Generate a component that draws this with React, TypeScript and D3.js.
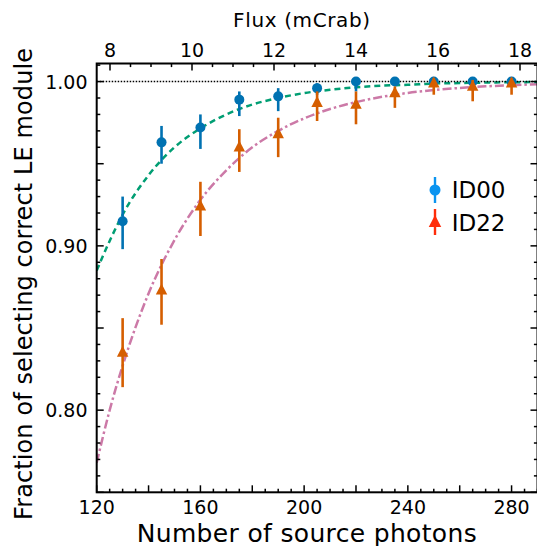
import React from "react";
import * as d3 from "d3";

// ---- data ----
const photons = [130, 145, 160, 175, 190, 205, 220, 235, 250, 265, 280];
const id00 = [0.915, 0.963, 0.972, 0.989, 0.991, 0.996, 1.0, 1.0, 1.0, 1.0, 1.0];
const id00Up = [0.015, 0.01, 0.008, 0.005, 0.005, 0.003, 0, 0, 0, 0, 0];
const id00Dn = [0.017, 0.013, 0.013, 0.01, 0.009, 0.004, 0.006, 0.002, 0.001, 0.001, 0.001];
const id22 = [0.835, 0.873, 0.924, 0.96, 0.968, 0.987, 0.986, 0.993, 0.999, 0.997, 0.999];
const id22Up = [0.021, 0.019, 0.015, 0.011, 0.01, 0.007, 0.008, 0.004, 0.003, 0.004, 0.003];
const id22Dn = [0.021, 0.021, 0.018, 0.015, 0.014, 0.011, 0.012, 0.009, 0.007, 0.009, 0.007];

const fitX = [120, 125, 130, 140, 150, 160, 170, 180, 190, 200, 210, 220, 230, 240, 250, 260, 270, 280, 290];
const fitID00 = [0.885, 0.903, 0.919, 0.943, 0.96, 0.9715, 0.98, 0.986, 0.99, 0.993, 0.995, 0.9965, 0.9975, 0.998, 0.9988, 0.9991, 0.9994, 0.9996, 0.9997];
const fitID22 = [0.768, 0.8, 0.827, 0.871, 0.9035, 0.928, 0.946, 0.96, 0.97, 0.9776, 0.9833, 0.9875, 0.9907, 0.9931, 0.9948, 0.9961, 0.9971, 0.9978, 0.9984];

const xLabelTicks = [120, 160, 200, 240, 280];
const yLabelTicks = [0.8, 0.9, 1.0];
const fluxLabelTicks = [8, 10, 12, 14, 16, 18];

const W = 537;
const H = 546;
const L = 96.7, R = 537.5, T = 63.5, B = 492.3;

const FONT = "'DejaVu Sans', sans-serif";
const C_BLUE = "#0072B2";
const C_ORANGE = "#D55E00";
const C_GREEN = "#009E73";
const C_PINK = "#CC79A7";

export default function App() {
  const x = d3.scaleLinear().domain([120, 290]).range([L, R]);
  const y = d3.scaleLinear().domain([0.75, 1.011]).range([B, T]);
  const fx = d3.scaleLinear().domain([8, 18]).range([110, 520]);

  const line = d3
    .line<number>()
    .x((_, i) => x(fitX[i]))
    .y((d) => y(d))
    .curve(d3.curveMonotoneX);

  const MAJ = 7, MIN = 3.6;

  const xTicks = d3.range(120, 291, 5);
  const yTicks = d3.range(75, 102, 1).map((v) => v / 100);
  const fTicks = d3.range(7.5, 18.8, 0.5).filter((f) => fx(f) > L + 1 && fx(f) < R);

  const tri = (cx: number, cy: number, s: number) =>
    `M${cx},${cy - s * 0.62}L${cx + s * 0.52},${cy + s * 0.38}L${cx - s * 0.52},${cy + s * 0.38}Z`;

  return (
    <svg width={W} height={H} style={{ position: "absolute", left: 0, top: 0, display: "block" }} fontFamily={FONT}>
      <rect x={0} y={0} width={W} height={H} fill="white" />
      <defs>
        <clipPath id="plot">
          <rect x={L} y={T} width={R - L} height={B - T} />
        </clipPath>
      </defs>

      {/* fit curves */}
      <g clipPath="url(#plot)">
        <path d={line(fitID22) || ""} fill="none" stroke={C_PINK} strokeWidth={2.5} strokeDasharray="9 3 2.5 3" />
        <path d={line(fitID00) || ""} fill="none" stroke={C_GREEN} strokeWidth={2.5} strokeDasharray="6 4" />
        <line x1={L} x2={R} y1={y(1)} y2={y(1)} stroke="black" strokeWidth={1.5} strokeDasharray="1.5 1.5" />
      </g>

      {/* ID00 */}
      <g>
        {photons.map((p, i) => (
          <g key={"a" + i}>
            <line x1={x(p)} x2={x(p)} y1={y(id00[i] + id00Up[i])} y2={y(id00[i] - id00Dn[i])} stroke={C_BLUE} strokeWidth={2.6} />
            <circle cx={x(p)} cy={y(id00[i])} r={5} fill={C_BLUE} />
          </g>
        ))}
      </g>
      {/* ID22 */}
      <g>
        {photons.map((p, i) => (
          <g key={"b" + i}>
            <line x1={x(p)} x2={x(p)} y1={y(id22[i] + id22Up[i])} y2={y(id22[i] - id22Dn[i])} stroke={C_ORANGE} strokeWidth={2.6} />
            <path d={tri(x(p), y(id22[i]), 11)} fill={C_ORANGE} />
          </g>
        ))}
      </g>

      {/* frame */}
      <rect x={L} y={T} width={R - L} height={B - T} fill="none" stroke="black" strokeWidth={2} />

      {/* bottom ticks */}
      {xTicks.map((t) => {
        const len = t % 20 === 0 ? MAJ : MIN;
        return <line key={"xb" + t} x1={x(t)} x2={x(t)} y1={B} y2={B - len} stroke="black" strokeWidth={1.5} />;
      })}
      {xLabelTicks.map((t) => (
        <text key={"xl" + t} x={x(t)} y={514} textAnchor="middle" fontSize={19} fill="black">
          {t}
        </text>
      ))}

      {/* top flux ticks */}
      {fTicks.map((f) => {
        const len = Math.abs(f % 2) < 1e-6 ? MAJ : MIN;
        return <line key={"ft" + f} x1={fx(f)} x2={fx(f)} y1={T} y2={T + len} stroke="black" strokeWidth={1.5} />;
      })}
      {fluxLabelTicks.map((f) => (
        <text key={"fl" + f} x={fx(f)} y={56.7} textAnchor="middle" fontSize={19} fill="black">
          {f}
        </text>
      ))}

      {/* left and right ticks */}
      {yTicks.map((t) => {
        const k = Math.round(t * 100);
        const len = k % 5 === 0 ? MAJ : MIN;
        if (y(t) < T + 1) return null;
        return (
          <g key={"yt" + k}>
            <line x1={L} x2={L + len} y1={y(t)} y2={y(t)} stroke="black" strokeWidth={1.5} />
            <line x1={R} x2={R - len} y1={y(t)} y2={y(t)} stroke="black" strokeWidth={1.5} />
          </g>
        );
      })}
      {yLabelTicks.map((t) => (
        <text key={"yl" + t} x={87.5} y={y(t) + 7} textAnchor="end" fontSize={19} fill="black">
          {t.toFixed(2)}
        </text>
      ))}

      {/* titles */}
      <text x={301.6} y={26.5} textAnchor="middle" fontSize={20} textLength={137} lengthAdjust="spacing" fill="black">
        Flux (mCrab)
      </text>
      <text x={306.7} y={541.5} textAnchor="middle" fontSize={25} textLength={340} lengthAdjust="spacing" fill="black">
        Number of source photons
      </text>
      <text
        transform={`translate(32,284) rotate(-90)`}
        textAnchor="middle"
        fontSize={24}
        textLength={472}
        lengthAdjust="spacing"
        fill="black"
      >
        Fraction of selecting correct LE module
      </text>

      {/* legend */}
      <g>
        <line x1={435} x2={435} y1={177} y2={203} stroke="#0A94F0" strokeWidth={2.4} />
        <circle cx={435} cy={190} r={5.5} fill="#0A94F0" />
        <text x={451.7} y={198.3} fontSize={23} fill="black">ID00</text>
        <line x1={435} x2={435} y1={209} y2={235} stroke="#FF2D0A" strokeWidth={2.4} />
        <path d={tri(435, 222.5, 12)} fill="#FF2D0A" />
        <text x={451.7} y={230.7} fontSize={23} fill="black">ID22</text>
      </g>
    </svg>
  );
}
